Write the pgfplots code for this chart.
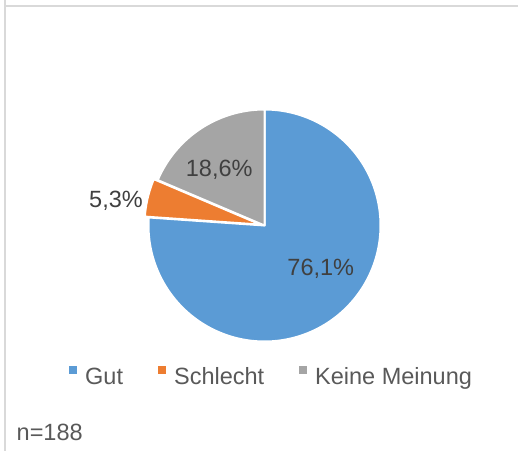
\documentclass[border=0pt]{standalone}
\usepackage{pgfplots}
\pgfplotsset{compat=1.18}
\usepackage{pgfplotstable}
\usepackage{fontspec}
\setmainfont{Liberation Sans}
\definecolor{gut}{HTML}{5B9BD5}
\definecolor{schlecht}{HTML}{ED7D31}
\definecolor{keine}{HTML}{A5A5A5}
\definecolor{lbl}{HTML}{404040}
\definecolor{leg}{HTML}{595959}
\definecolor{frame}{HTML}{D9D9D9}
\pgfplotstableread{
cat value
Gut 76.1
Schlecht 5.3
Keine 18.6
}\piedata
\begin{document}%
\fontsize{23.5pt}{28pt}\selectfont%
\pgfplotstablegetelem{0}{value}\of\piedata\let\vA\pgfplotsretval%
\pgfplotstablegetelem{1}{value}\of\piedata\let\vB\pgfplotsretval%
\pgfplotstablegetelem{2}{value}\of\piedata\let\vC\pgfplotsretval%
\pgfmathsetmacro\aA{90}%
\pgfmathsetmacro\aB{90-3.6*\vA}%
\pgfmathsetmacro\aC{\aB-3.6*\vB}%
\pgfmathsetmacro\aD{\aC-3.6*\vC}%
\begin{tikzpicture}
\useasboundingbox (0,0) rectangle (518pt,450pt);
\draw[frame, line width=2pt] (5pt,451pt) -- (5pt,444pt) -- (519pt,444pt);
\draw[frame, line width=2pt] (5pt,444pt) -- (5pt,-1pt);
\begin{axis}[at={(0,0)}, anchor=south west, x=1pt, y=1pt,
  xmin=0, xmax=518, ymin=0, ymax=450, scale only axis, hide axis, clip=false,
  legend image code/.code={\fill[#1, draw=none] (0pt,4pt) rectangle (8pt,12pt);},
  legend columns=3,
  legend style={at={(axis cs:69,72.9)}, anchor=west, draw=none, fill=none,
    inner sep=0pt, text=leg, font=\fontsize{23.5pt}{28pt}\selectfont,
    nodes={inner sep=0pt},
    /tikz/every odd column/.append style={column sep=8pt},
    /tikz/every even column/.append style={column sep=35pt}},
  ]
\addplot[fill=gut, draw=white, line width=2pt, line join=round, domain=\aB:\aA, samples=200, variable=\t, forget plot]
  ({264.5+116*cos(\t)},{224.5+116*sin(\t)}) -- (264.5,224.5) -- cycle;
\addplot[fill=schlecht, draw=white, line width=2pt, line join=round, domain=\aC:\aB, samples=30, variable=\t, forget plot]
  ({260.6+116*cos(\t)},{225.4+116*sin(\t)}) -- (260.6,225.4) -- cycle;
\addplot[fill=keine, draw=white, line width=2pt, line join=round, domain=\aD:\aC, samples=80, variable=\t, forget plot]
  ({264.5+116*cos(\t)},{224.5+116*sin(\t)}) -- (264.5,224.5) -- cycle;
\addlegendimage{fill=gut}\addlegendentry{Gut}
\addlegendimage{fill=schlecht}\addlegendentry{Schlecht}
\addlegendimage{fill=keine}\addlegendentry{Keine Meinung}
\node[text=lbl, anchor=base, inner sep=0pt] at (axis cs:320.8,174.7) {76,1\%};
\node[text=lbl, anchor=base, inner sep=0pt] at (axis cs:219.2,273.3) {18,6\%};
\node[text=lbl, anchor=base, inner sep=0pt] at (axis cs:116,242.3) {5,3\%};
\node[text=leg, anchor=base west, inner sep=0pt] at (axis cs:16.5,9.3) {n=188};
\end{axis}
\end{tikzpicture}%
\end{document}
